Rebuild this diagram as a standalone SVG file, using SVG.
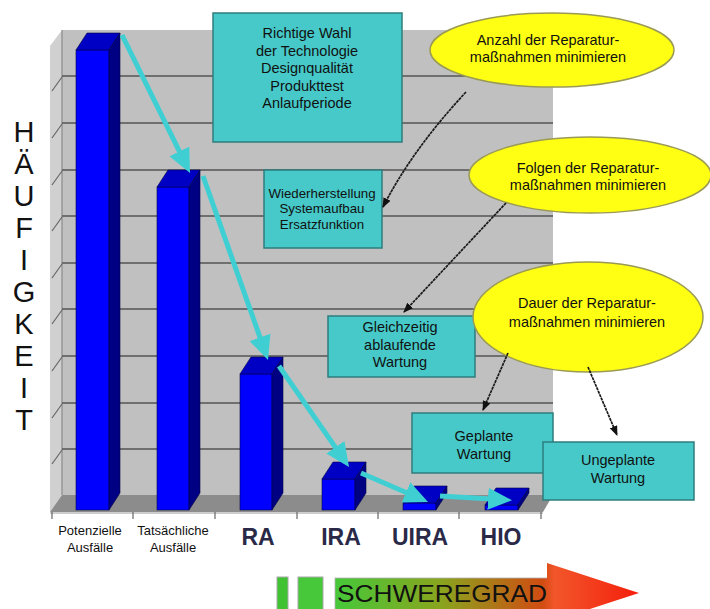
<svg xmlns="http://www.w3.org/2000/svg" width="710" height="609" viewBox="0 0 710 609">
  <defs>
    <style>
      text { font-family: "Liberation Sans", Arial, sans-serif; fill: #111; }
      .box { fill: #46c9c8; stroke: #2f7d7d; stroke-width: 1.5; }
      .oval { fill: #ffff14; stroke: #9a9a55; stroke-width: 1.5; }
      .lbl { font-size: 14.5px; text-anchor: middle; }
      .lbl-s { font-size: 13.3px; text-anchor: middle; }
      .grid { stroke: #555; stroke-width: 1.5; fill: none; }
      .stub { stroke: #666; stroke-width: 1.2; }
      .front { fill: #0000ff; stroke: #00004a; stroke-width: 0.6; }
      .top { fill: #0000c4; stroke: #00004a; stroke-width: 0.6; }
      .side { fill: #000082; stroke: #00004a; stroke-width: 0.6; }
      .flow { stroke: #3fcfd3; stroke-width: 5; fill: none; }
      .link { stroke: #1a1a1a; stroke-width: 1.7; fill: none; stroke-dasharray: 3 0.7; }
      .axis { font-size: 24px; text-anchor: middle; fill: #111; }
      .cat { font-size: 13px; text-anchor: middle; }
      .code { font-size: 23px; font-weight: bold; text-anchor: middle; fill: #2a2a48; }
    </style>
    <marker id="flowHead" viewBox="0 0 24 22" refX="12" refY="11" markerWidth="24" markerHeight="22" markerUnits="userSpaceOnUse" orient="auto">
      <path d="M0,0 L24,11 L0,22 z" fill="#3fcfd3"/>
    </marker>
    <marker id="linkHead" viewBox="0 0 10 8" refX="9" refY="4" markerWidth="10" markerHeight="8" markerUnits="userSpaceOnUse" orient="auto">
      <path d="M0,0 L10,4 L0,8 z" fill="#111"/>
    </marker>
    <linearGradient id="severity" x1="335" y1="0" x2="640" y2="0" gradientUnits="userSpaceOnUse">
      <stop offset="0" stop-color="#46c83a"/>
      <stop offset="0.35" stop-color="#8aa41e"/>
      <stop offset="0.68" stop-color="#d04c12"/>
      <stop offset="0.72" stop-color="#f2562a"/>
      <stop offset="1" stop-color="#f41e0c"/>
    </linearGradient>
  </defs>

  <rect width="710" height="609" fill="#fff"/>

  <!-- chart walls and floor -->
  <g id="chart">
    <polygon points="50,46 62,30 62,495 50,512" fill="#d0d0d0"/>
    <rect x="62" y="30" width="491" height="465" fill="#c0c0c0"/>
    <line x1="62" y1="30" x2="62" y2="495" stroke="#8a8a8a" stroke-width="1.2"/>
    <polygon points="62,495 553,495 543,512 50,512" fill="#8c8c8c"/>
    <g class="grid">
      <line x1="62" y1="76" x2="553" y2="76"/>
      <line x1="62" y1="123" x2="553" y2="123"/>
      <line x1="62" y1="170" x2="553" y2="170"/>
      <line x1="62" y1="216" x2="553" y2="216"/>
      <line x1="62" y1="263" x2="553" y2="263"/>
      <line x1="62" y1="309" x2="553" y2="309"/>
      <line x1="62" y1="356" x2="553" y2="356"/>
      <line x1="62" y1="403" x2="553" y2="403"/>
      <line x1="62" y1="449" x2="553" y2="449"/>
    </g>
    <g class="stub">
      <line x1="52" y1="91" x2="62" y2="77"/>
      <line x1="52" y1="138" x2="62" y2="124"/>
      <line x1="52" y1="185" x2="62" y2="171"/>
      <line x1="52" y1="231" x2="62" y2="217"/>
      <line x1="52" y1="278" x2="62" y2="264"/>
      <line x1="52" y1="324" x2="62" y2="310"/>
      <line x1="52" y1="371" x2="62" y2="357"/>
      <line x1="52" y1="418" x2="62" y2="404"/>
      <line x1="52" y1="464" x2="62" y2="450"/>
    </g>
    <line x1="50" y1="513" x2="543" y2="513" stroke="#9a9a9a" stroke-width="1"/>
    <g stroke="#666" stroke-width="1.2">
      <line x1="52" y1="512" x2="52" y2="519"/>
      <line x1="133" y1="512" x2="133" y2="519"/>
      <line x1="215" y1="512" x2="215" y2="519"/>
      <line x1="297" y1="512" x2="297" y2="519"/>
      <line x1="378" y1="512" x2="378" y2="519"/>
      <line x1="459" y1="512" x2="459" y2="519"/>
      <line x1="541" y1="512" x2="541" y2="519"/>
    </g>
  </g>

  <!-- bars -->
  <g id="bars">
    <g id="bar-potenzielle">
      <rect class="front" x="76" y="50" width="33" height="460"/>
      <polygon class="top" points="76,50 109,50 120,33 87,33"/>
      <polygon class="side" points="109,50 120,33 120,493 109,510"/>
    </g>
    <g id="bar-tatsaechliche">
      <rect class="front" x="157" y="187" width="32" height="323"/>
      <polygon class="top" points="157,187 189,187 200,170 168,170"/>
      <polygon class="side" points="189,187 200,170 200,493 189,510"/>
    </g>
    <g id="bar-ra">
      <rect class="front" x="240" y="374" width="32" height="136"/>
      <polygon class="top" points="240,374 272,374 283,357 251,357"/>
      <polygon class="side" points="272,374 283,357 283,493 272,510"/>
    </g>
    <g id="bar-ira">
      <rect class="front" x="322" y="479" width="33" height="31"/>
      <polygon class="top" points="322,479 355,479 366,462 333,462"/>
      <polygon class="side" points="355,479 366,462 366,493 355,510"/>
    </g>
    <g id="bar-uira">
      <rect class="front" x="403" y="503" width="33" height="7"/>
      <polygon class="top" points="403,503 436,503 447,486 414,486"/>
      <polygon class="side" points="436,503 447,486 447,493 436,510"/>
    </g>
    <g id="bar-hio">
      <rect class="front" x="485" y="505" width="33" height="5"/>
      <polygon class="top" points="485,505 518,505 529,488 496,488"/>
      <polygon class="side" points="518,505 529,488 529,493 518,510"/>
    </g>
  </g>

  <!-- trend arrows between bar tops -->
  <g id="trend">
    <line class="flow" x1="122" y1="35" x2="184.7" y2="162.2" marker-end="url(#flowHead)"/>
    <line class="flow" x1="203" y1="176" x2="264" y2="348.7" marker-end="url(#flowHead)"/>
    <line class="flow" x1="279" y1="366" x2="342.2" y2="457.1" marker-end="url(#flowHead)"/>
    <line class="flow" x1="361" y1="473" x2="417" y2="497.2" marker-end="url(#flowHead)"/>
    <line class="flow" x1="440" y1="496" x2="500" y2="499.5" marker-end="url(#flowHead)"/>
  </g>

  <!-- measure boxes -->
  <g id="box-design">
    <rect class="box" x="213" y="13" width="189" height="129"/>
    <text class="lbl" x="307" y="38">Richtige Wahl</text>
    <text class="lbl" x="307" y="55.5">der Technologie</text>
    <text class="lbl" x="307" y="73">Designqualität</text>
    <text class="lbl" x="307" y="90.5">Produkttest</text>
    <text class="lbl" x="307" y="108">Anlaufperiode</text>
  </g>
  <g id="box-wiederherstellung">
    <rect class="box" x="264" y="170" width="118" height="78"/>
    <text class="lbl-s" x="322" y="197.5">Wiederherstellung</text>
    <text class="lbl-s" x="322" y="213">Systemaufbau</text>
    <text class="lbl-s" x="322" y="228.5">Ersatzfunktion</text>
  </g>
  <g id="box-gleichzeitig">
    <rect class="box" x="328" y="316" width="147" height="61"/>
    <text class="lbl" x="400" y="332">Gleichzeitig</text>
    <text class="lbl" x="400" y="349.5">ablaufende</text>
    <text class="lbl" x="400" y="367">Wartung</text>
  </g>
  <g id="box-geplant">
    <rect class="box" x="412" y="413" width="141" height="60"/>
    <text class="lbl" x="484" y="441">Geplante</text>
    <text class="lbl" x="484" y="458.5">Wartung</text>
  </g>
  <g id="box-ungeplant">
    <rect class="box" x="543" y="442" width="151" height="58"/>
    <text class="lbl" x="618" y="465">Ungeplante</text>
    <text class="lbl" x="618" y="483">Wartung</text>
  </g>

  <!-- goal ellipses -->
  <g id="goal-anzahl">
    <ellipse class="oval" cx="552" cy="50" rx="122" ry="37"/>
    <text class="lbl" x="548" y="45">Anzahl der Reparatur-</text>
    <text class="lbl" x="548" y="61.5">maßnahmen minimieren</text>
  </g>
  <g id="goal-folgen">
    <ellipse class="oval" cx="590" cy="175" rx="121" ry="38"/>
    <text class="lbl" x="588" y="173">Folgen der Reparatur-</text>
    <text class="lbl" x="588" y="190">maßnahmen minimieren</text>
  </g>
  <g id="goal-dauer">
    <ellipse class="oval" cx="588" cy="317" rx="115" ry="55"/>
    <text class="lbl" x="587" y="308">Dauer der Reparatur-</text>
    <text class="lbl" x="587" y="327">maßnahmen minimieren</text>
  </g>

  <!-- goal to measure links -->
  <g id="links">
    <path class="link" d="M466,92 Q412,150 383,207" marker-end="url(#linkHead)"/>
    <path class="link" d="M506,203 L404,312" marker-end="url(#linkHead)"/>
    <path class="link" d="M508,353 L483,410" marker-end="url(#linkHead)"/>
    <path class="link" d="M588,367 L617,435" marker-end="url(#linkHead)"/>
  </g>

  <!-- vertical axis title -->
  <g id="axis-title" class="axis">
    <text x="24" y="142" style="font-size:29px">H</text>
    <text x="24" y="174" style="font-size:29px">Ä</text>
    <text x="24" y="206" style="font-size:29px">U</text>
    <text x="24" y="238" style="font-size:29px">F</text>
    <text x="24" y="270" style="font-size:29px">I</text>
    <text x="24" y="302" style="font-size:29px">G</text>
    <text x="24" y="334" style="font-size:29px">K</text>
    <text x="24" y="366" style="font-size:29px">E</text>
    <text x="24" y="398" style="font-size:29px">I</text>
    <text x="24" y="430" style="font-size:29px">T</text>
  </g>

  <!-- category labels -->
  <g id="categories">
    <text class="cat" x="90" y="535">Potenzielle</text>
    <text class="cat" x="90" y="552">Ausfälle</text>
    <text class="cat" x="173" y="535">Tatsächliche</text>
    <text class="cat" x="173" y="552">Ausfälle</text>
    <text class="code" x="258" y="545">RA</text>
    <text class="code" x="341" y="545">IRA</text>
    <text class="code" x="420" y="545">UIRA</text>
    <text class="code" x="501" y="545">HIO</text>
  </g>

  <!-- severity arrow -->
  <g id="severity-arrow">
    <rect x="277" y="577" width="11" height="34" fill="#40c232" stroke="#a8a8a8" stroke-width="1"/>
    <rect x="298" y="577" width="25" height="34" fill="#46c83a" stroke="#a8a8a8" stroke-width="1"/>
    <rect x="335" y="578" width="213" height="33" fill="url(#severity)" stroke="#b0b0b0" stroke-width="0.8"/>
    <polygon points="547,563 639,593 547,623" fill="url(#severity)"/>
    <text x="337" y="602" style="font-size:24px" textLength="210" lengthAdjust="spacingAndGlyphs">SCHWEREGRAD</text>
  </g>
</svg>
